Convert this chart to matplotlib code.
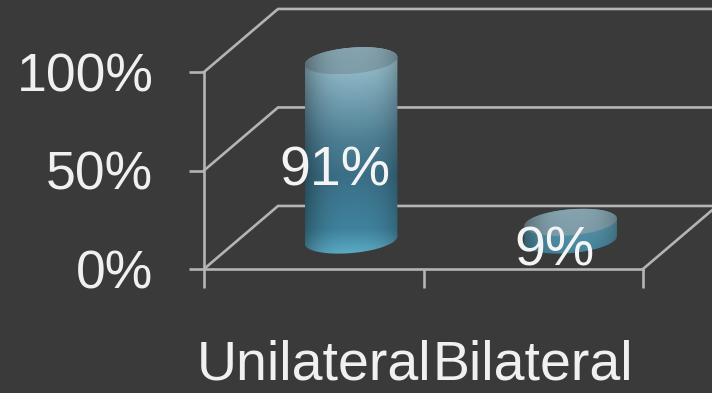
import numpy as np
import matplotlib
matplotlib.use("Agg")
import matplotlib.pyplot as plt
from matplotlib.path import Path
from matplotlib.transforms import IdentityTransform
from matplotlib.colors import to_rgb

categories = ["Unilateral", "Bilateral"]
values = [91, 9]
y_ticks = [0, 50, 100]
y_tick_labels = ["0%", "50%", "100%"]

BG = "#3a3a3a"
LINE = "#b4b4b4"
W, H = 712, 393
plt.rcParams["font.family"] = ["Liberation Sans", "DejaVu Sans"]

fig = plt.figure(figsize=(W / 100, H / 100), dpi=100, facecolor=BG)
ax = fig.add_axes([204 / W, 1 - 269 / H, 439 / W, 197 / H], facecolor="none")
ax.set_xlim(-0.5, 1.5)
ax.set_ylim(0, 100)

# depth of the pseudo-3D box, in data units
DX, DY = 74 / 219.5, 32.0
lw = 1.9
for v in y_ticks:
    ax.plot([-0.5, -0.5 + DX, 1.5 + DX], [v, v + DY, v + DY], color=LINE, lw=lw,
            clip_on=False, zorder=1, solid_joinstyle="miter")
ax.plot([1.5, 1.5 + DX], [0, DY], color=LINE, lw=lw, clip_on=False, zorder=1)

for s in ("top", "right"):
    ax.spines[s].set_visible(False)
for s in ("left", "bottom"):
    ax.spines[s].set_color(LINE)
    ax.spines[s].set_linewidth(lw)
    ax.spines[s].set_zorder(1.5)
ax.set_xticks([-0.5, 0.5, 1.5], labels=[])
ax.set_xticks([0, 1], labels=categories, minor=True)
ax.set_yticks(y_ticks, labels=y_tick_labels)
ax.tick_params(axis="x", which="major", length=13.5, width=lw, color=LINE)
ax.tick_params(axis="x", which="minor", length=0, pad=51, labelsize=40, labelcolor="#f0f0f0")
ax.tick_params(axis="y", length=10.5, width=lw, color=LINE, pad=26, labelsize=38.5,
               labelcolor="#f0f0f0")

# cylinders
X_OFF, BASE = 0.17, 14.7
A, B, TILT = 46.5, 13.0, np.radians(5)
TR = np.arctan(-(B / A) * np.tan(TILT))


def ellipse(c, t):
    return np.column_stack([
        c[0] + A * np.cos(t) * np.cos(TILT) - B * np.sin(t) * np.sin(TILT),
        c[1] + A * np.cos(t) * np.sin(TILT) + B * np.sin(t) * np.cos(TILT),
    ])


def gradient(stops, nrow=200, ncol=120):
    pos = np.linspace(0, 1, nrow)
    fr = [s[0] for s in stops]
    cols = np.array([to_rgb(s[1]) for s in stops])
    vert = np.column_stack([np.interp(pos, fr, cols[:, i]) for i in range(3)])
    u = np.linspace(-1, 1, ncol)
    shade = 1 - 0.22 * np.abs(u) ** 3 - 0.10 * np.clip(-u, 0, 1) ** 2
    return vert[:, None, :] * shade[None, :, None]


SIDE = [(0, "#a2c6d2"), (0.12, "#8db6c5"), (0.45, "#4d7f94"), (0.62, "#3b6f86"),
        (0.88, "#3f829c"), (1, "#5cabc6")]
SIDE_SMALL = [(0, "#5f9aae"), (1, "#44849c")]
TOP = [(0, "#86a3af"), (1, "#7d9da9")]

for i, v in enumerate(values):
    x = i + X_OFF
    y0, y1 = BASE, BASE + v
    bot = ax.transData.transform((x, y0))
    top = ax.transData.transform((x, y1))
    pts = np.vstack([
        ellipse(top, np.linspace(TR, TR + np.pi, 80)),
        ellipse(bot, np.linspace(TR + np.pi, TR + 2 * np.pi, 80)),
    ])
    clip = Path(np.vstack([pts, pts[:1]]), closed=True)
    inv = ax.transData.inverted()
    lo, hi = inv.transform(pts.min(0)), inv.transform(pts.max(0))
    side = SIDE if v > 50 else SIDE_SMALL
    im = ax.imshow(gradient(side), extent=[lo[0], hi[0], lo[1], hi[1]], aspect="auto",
                   origin="upper", zorder=2, interpolation="bilinear")
    im.set_clip_box(fig.bbox)
    im.set_clip_path(clip, IdentityTransform())
    # top face
    cap_pts = ellipse(top, np.linspace(0, 2 * np.pi, 160))
    cap = Path(np.vstack([cap_pts, cap_pts[:1]]), closed=True)
    lo, hi = inv.transform(cap_pts.min(0)), inv.transform(cap_pts.max(0))
    imc = ax.imshow(gradient(TOP), extent=[lo[0], hi[0], lo[1], hi[1]], aspect="auto",
                    origin="upper", zorder=3, interpolation="bilinear")
    imc.set_clip_box(fig.bbox)
    imc.set_clip_path(cap, IdentityTransform())
    ax.text(x - 0.073, BASE + v / 2 - 10.5, f"{v}%", ha="center", va="center",
            fontsize=40, color="#f4f4f4", zorder=5, clip_on=False)

ax.set_xlim(-0.5, 1.5)
ax.set_ylim(0, 100)
fig.savefig("out.png", dpi=100, facecolor=BG)
